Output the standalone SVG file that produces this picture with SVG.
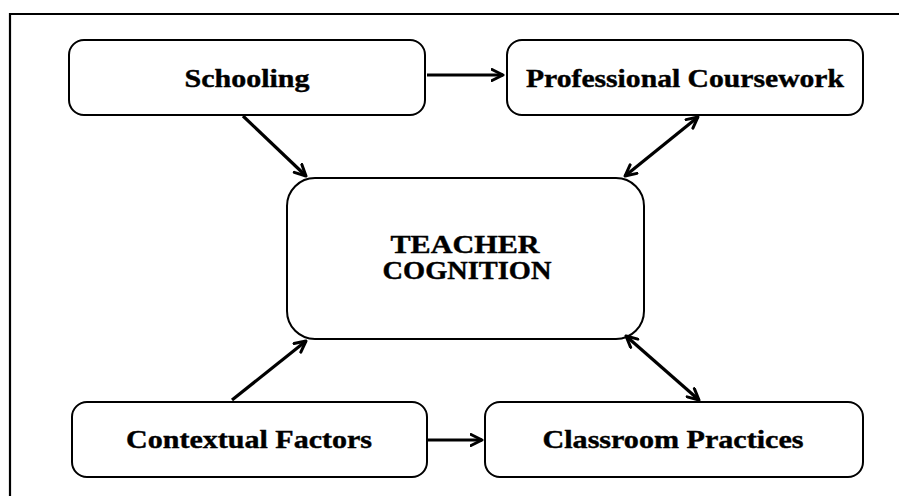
<svg xmlns="http://www.w3.org/2000/svg" width="899" height="496" viewBox="0 0 899 496">
<defs>
<marker id="ah" viewBox="0 0 14 14" refX="12.5" refY="7" markerWidth="14" markerHeight="14" markerUnits="userSpaceOnUse" orient="auto-start-reverse">
<path d="M1.5,1.5 L12.5,7 L1.5,12.5" fill="none" stroke="#000" stroke-width="3" stroke-linecap="round" stroke-linejoin="round"/>
</marker>
</defs>
<style>
.box{fill:#fff;stroke:#000;stroke-width:2}
.lbl{font-family:"Liberation Serif","Times New Roman",serif;font-weight:bold;font-size:25px;fill:#000;stroke:#000;stroke-width:0.4;text-anchor:middle}
.con{fill:none;stroke:#000;stroke-width:3.2}
</style>
<rect width="899" height="496" fill="#fff"/>
<path d="M10,496 L10,14 L899,14" fill="none" stroke="#000" stroke-width="2.2"/>
<g id="schooling">
<rect class="box" x="69" y="40" width="356" height="75" rx="15"/>
<text class="lbl" x="247" y="87" textLength="125" lengthAdjust="spacingAndGlyphs">Schooling</text>
</g>
<g id="professional-coursework">
<rect class="box" x="507" y="40" width="356" height="75" rx="15"/>
<text class="lbl" x="685" y="87" textLength="318" lengthAdjust="spacingAndGlyphs">Professional Coursework</text>
</g>
<g id="teacher-cognition">
<rect class="box" x="287" y="178" width="357" height="161" rx="28"/>
<text class="lbl" x="465" y="253" textLength="149" lengthAdjust="spacingAndGlyphs">TEACHER</text>
<text class="lbl" x="467" y="279" textLength="169" lengthAdjust="spacingAndGlyphs">COGNITION</text>
</g>
<g id="contextual-factors">
<rect class="box" x="72" y="402" width="355" height="75" rx="15"/>
<text class="lbl" x="249" y="448" textLength="246" lengthAdjust="spacingAndGlyphs">Contextual Factors</text>
</g>
<g id="classroom-practices">
<rect class="box" x="485" y="402" width="378" height="75" rx="15"/>
<text class="lbl" x="673" y="448" textLength="261" lengthAdjust="spacingAndGlyphs">Classroom Practices</text>
</g>
<g id="connectors">
<line class="con" x1="427" y1="75" x2="503" y2="75" marker-end="url(#ah)"/>
<line class="con" x1="243" y1="116" x2="306" y2="176" marker-end="url(#ah)"/>
<line class="con" x1="625" y1="176" x2="698" y2="117" marker-start="url(#ah)" marker-end="url(#ah)"/>
<line class="con" x1="232" y1="400" x2="306" y2="341" marker-end="url(#ah)"/>
<line class="con" x1="626" y1="336" x2="699" y2="400" marker-start="url(#ah)" marker-end="url(#ah)"/>
<line class="con" x1="428" y1="440" x2="482" y2="440" marker-end="url(#ah)"/>
</g>
</svg>
